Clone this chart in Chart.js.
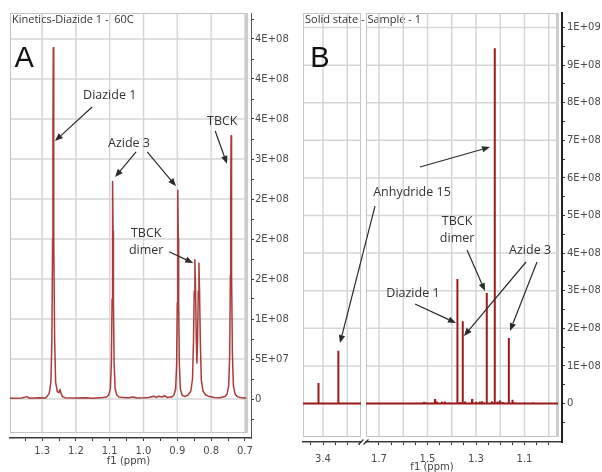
<!DOCTYPE html>
<html><head><meta charset="utf-8">
<script src="https://cdn.jsdelivr.net/npm/chart.js@4"></script>
<style>
html,body{margin:0;padding:0;background:#fff;}
#wrap{position:relative;width:602px;height:472px;overflow:hidden;background:#fff;}
.c{position:absolute;top:0;}
</style></head><body>
<div id="wrap">
<canvas id="cA" class="c" style="left:0" width="300" height="472"></canvas>
<canvas id="cBL" class="c" style="left:300px" width="302" height="472"></canvas>
<canvas id="cBR" class="c" style="left:300px" width="302" height="472"></canvas>
</div>
<script>
// ---------------- DATA: Panel A (Kinetics-Diazide 1 - 60C) ----------------
const A_TITLE = 'Kinetics-Diazide 1 -  60C';
const A_PPM = [1.395,1.36,1.345,1.338,1.31,1.29,
  1.285,1.279,1.274,1.271,1.269,1.268,1.267,1.266,1.265,1.263,1.260,1.255,
  1.250,1.247,1.244,1.240,1.232,1.2,1.17,1.15,1.12,
  1.109,1.103,1.098,1.095,1.093,1.092,1.091,1.090,1.089,1.087,1.084,1.079,1.073,
  1.06,1.045,1.03,1.02,1.0,0.985,0.97,0.962,0.955,0.945,0.937,0.93,0.92,
  0.916,0.91,0.905,0.902,0.900,0.899,0.898,0.897,0.896,0.894,0.891,0.886,
  0.878,0.868,0.860,0.855,0.852,0.850,0.848,0.846,0.844,0.842,0.840,0.838,0.836,0.834,0.832,0.829,0.824,0.816,0.805,0.79,0.775,0.765,
  0.759,0.753,0.748,0.745,0.743,0.742,0.741,0.740,0.739,0.737,0.734,0.729,0.723,0.71,0.696];
const A_INT = [1.0e6,1.2e6,3.0e6,1.0e6,1.5e6,1.2e6,
  3.5e6,7e6,2.1e7,7.5e7,2.0e8,3.4e8,4.39e8,3.4e8,2.0e8,7.5e7,2.1e7,9e6,
  8e6,1.2e7,7e6,3e6,1.5e6,1.2e6,1.5e6,1.0e6,2.0e6,
  2.5e6,5e6,1.3e7,4.6e7,1.25e8,2.1e8,2.72e8,2.1e8,1.25e8,4.6e7,1.3e7,5e6,2.5e6,
  2.0e6,1.5e6,2.5e6,1.2e6,1.5e6,2.0e6,3.5e6,2.0e6,3.5e6,2.5e6,4.0e6,2.0e6,2.5e6,
  2.5e6,5e6,1.25e7,4.4e7,1.2e8,2.0e8,2.61e8,2.0e8,1.2e8,4.4e7,1.25e7,5e6,
  3e6,5e6,1.0e7,2.5e7,7.5e7,1.35e8,1.74e8,1.35e8,7.5e7,4.5e7,7.5e7,1.35e8,1.70e8,1.3e8,7.3e7,2.4e7,1.0e7,5e6,3e6,2e6,1.5e6,2.5e6,
  3e6,6e6,1.6e7,5.6e7,1.55e8,2.5e8,3.29e8,2.5e8,1.55e8,5.6e7,1.6e7,6e6,3e6,1.5e6,1.0e6];
const A_X_TICK_VALUES = [1.35,1.3,1.25,1.2,1.15,1.1,1.05,1.0,0.95,0.9,0.85,0.8,0.75,0.7];
const A_X_TICK_LABELS = ['','1.3','','1.2','','1.1','','1.0','','0.9','','0.8','','0.7'];
const A_GRID_X = [1.3,1.2,1.1,1.0,0.9,0.8,0.7];
const A_Y_TICK_VALUES = [-2.5e7,0,2.5e7,5e7,7.5e7,1e8,1.25e8,1.5e8,1.75e8,2e8,2.25e8,2.5e8,2.75e8,3e8,3.25e8,3.5e8,3.75e8,4e8,4.25e8,4.5e8,4.75e8];
const A_Y_TICK_LABELS = ['','0','','5E+07','','1E+08','','2E+08','','2E+08','','2E+08','','3E+08','','4E+08','','4E+08','','4E+08',''];
const A_GRID_Y = [0,5e7,1e8,1.5e8,2e8,2.5e8,3e8,3.5e8,4e8,4.5e8];
const A_X_RANGE = [0.682, 1.395];
const A_Y_RANGE = [-4.875e7, 4.825e8];
// annotations (data coordinates)
const A_LABELS = [
  {text:'Diazide 1', x:1.100, y:3.80e8},
  {text:'Azide 3', x:1.043, y:3.20e8},
  {text:'TBCK', x:0.767, y:3.475e8},
  {text:'TBCK', x:0.992, y:2.075e8},
  {text:'dimer', x:0.992, y:1.8625e8}
];
const A_ARROWS = [
  [1.152,3.65e8, 1.262,3.225e8],
  [1.022,3.09e8, 1.084,2.775e8],
  [0.989,3.09e8, 0.904,2.66e8],
  [0.788,3.35e8, 0.753,2.94e8],
  [0.924,1.84e8, 0.853,1.70e8]
];
const A_LETTER = {text:'A', x:1.353, y:4.25e8};

// ---------------- DATA: Panel B (Solid state - Sample - 1) ----------------
const B_TITLE = 'Solid state - Sample - 1';
const B_LEFT_PEAK_PPM = [3.465,3.419,3.385,3.337,3.30];
const B_LEFT_PEAK_INT = [2e6,5.45e7,2e6,1.40e8,2e6];
const B_RIGHT_PEAK_PPM = [1.515,1.505,1.469,1.462,1.44,1.428,1.41,1.377,1.365,1.355,1.345,1.316,1.30,1.285,1.275,1.256,1.235,1.223,1.212,1.201,1.19,1.165,1.150,1.14,1.098,1.065];
const B_RIGHT_PEAK_INT = [4e6,3e6,1.2e7,5e6,4e6,5e6,3e6,3.31e8,4e6,2.19e8,5e6,1.2e7,4e6,5e6,6e6,2.94e8,6e6,9.45e8,5e6,8e6,4e6,1.74e8,1e7,3e6,3e6,3e6];
const B_LEFT_X_RANGE = [3.2433, 3.4825];
const B_RIGHT_X_RANGE = [0.9454, 1.7536];
const B_RIGHT_BASELINE_END = 0.962;
const B_Y_RANGE = [-1.024e8, 1.0387e9];
const B_LEFT_X_TICK_VALUES = [3.45,3.4,3.35,3.3,3.25];
const B_LEFT_X_TICK_LABELS = ['','3.4','','',''];
const B_LEFT_GRID_X = [3.4,3.3];
const B_RIGHT_X_TICK_VALUES = [1.7,1.65,1.6,1.55,1.5,1.45,1.4,1.35,1.3,1.25,1.2,1.15,1.1,1.05,1.0];
const B_RIGHT_X_TICK_LABELS = ['1.7','','','','1.5','','','','1.3','','','','1.1','',''];
const B_RIGHT_GRID_X = [1.7,1.6,1.5,1.4,1.3,1.2,1.1,1.0];
const B_Y_TICK_VALUES = [-5e7,0,5e7,1e8,1.5e8,2e8,2.5e8,3e8,3.5e8,4e8,4.5e8,5e8,5.5e8,6e8,6.5e8,7e8,7.5e8,8e8,8.5e8,9e8,9.5e8,1e9];
const B_Y_TICK_LABELS = ['','0','','1E+08','','2E+08','','3E+08','','4E+08','','5E+08','','6E+08','','7E+08','','8E+08','','9E+08','','1E+09'];
const B_GRID_Y = [0,1e8,2e8,3e8,4e8,5e8,6e8,7e8,8e8,9e8,1e9];
const B_LABELS = [
  {text:'Anhydride 15', x:1.564, y:5.626e8},
  {text:'TBCK', x:1.378, y:4.83e8},
  {text:'dimer', x:1.378, y:4.40e8},
  {text:'Diazide 1', x:1.560, y:2.94e8},
  {text:'Azide 3', x:1.077, y:4.083e8}
];
const B_ARROWS = [
  [1.7165,5.25e8, 1.8608,1.607e8],
  [1.5309,6.29e8, 1.2423,6.82e8],
  [1.3371,4.083e8, 1.2629,2.99e8],
  [1.5515,2.647e8, 1.3825,2.141e8],
  [1.0938,3.764e8, 1.3495,1.795e8],
  [1.0485,3.764e8, 1.1598,1.928e8]
];
const B_LETTER = {text:'B', x:3.4124, y:9.163e8};
const X_TITLE = 'f1 (ppm)';
const B_X_TITLE_AT = 1.4814;

// ---------------- styles ----------------
const TICK_FONT = {family:'DejaVu Sans', size:10};
const TICK_COLOR = '#4a4a4a';
const GRID_COLOR = '#d6d6d6';
const FRAME_COLOR = '#c4c4c4';
const LABEL_FONT = '12.5px "Open Sans"';
const LABEL_COLOR = '#333';
const ARROW_COLOR = '#2b2b2b';

function lookup(vals, labels, v){
  for (let k=0;k<vals.length;k++) if (Math.abs(vals[k]-v) < 1e-6*Math.max(1,Math.abs(v))) return labels[k];
  return '';
}
function xScale(range, tv, tl, h, pad){
  return {type:'linear', position:'bottom', reverse:true, min:range[0], max:range[1],
    afterBuildTicks: s => { s.ticks = tv.map(v=>({value:v})); },
    afterFit: s => { s.height = h; },
    ticks:{autoSkip:false, maxRotation:0, minRotation:0, padding:pad, color:TICK_COLOR, font:TICK_FONT,
      callback:(v)=>lookup(tv,tl,v)},
    grid:{drawOnChartArea:false, drawTicks:true, tickLength:3, tickColor:'#333', tickWidth:1},
    border:{display:true, color:'#3a3a3a', width:1.5}
  };
}
function yScale(range, tv, tl, w, display, bw, bc, pad){
  return {type:'linear', position:'right', min:range[0], max:range[1], display:display,
    afterBuildTicks: s => { s.ticks = tv.map(v=>({value:v})); },
    afterFit: s => { s.width = w; },
    ticks:{autoSkip:false, padding:pad, color:TICK_COLOR, font:TICK_FONT, callback:(v)=>lookup(tv,tl,v)},
    grid:{drawOnChartArea:false, drawTicks:true, tickLength:3, tickColor:'#333', tickWidth:1},
    border:{display:true, color:bc, width:bw}
  };
}
function arrow(ctx,x1,y1,x2,y2){
  const a=Math.atan2(y2-y1,x2-x1), L=8, W=3.2;
  const bx=x2-L*Math.cos(a), by=y2-L*Math.sin(a);
  ctx.beginPath(); ctx.moveTo(x1,y1); ctx.lineTo(bx,by); ctx.stroke();
  ctx.beginPath(); ctx.moveTo(x2,y2);
  ctx.lineTo(bx-W*Math.sin(a), by+W*Math.cos(a));
  ctx.lineTo(bx+W*Math.sin(a), by-W*Math.cos(a));
  ctx.closePath(); ctx.fill();
}
function panelPlugin(o){
  return {
    id:'panel_'+o.name,
    beforeDatasetsDraw(chart){
      const ctx=chart.ctx, a=chart.chartArea, xs=chart.scales.x, ys=chart.scales.y;
      const fr={l:a.left, t:a.top, r:a.right-o.gapR, b:a.bottom-o.gapB};
      ctx.save();
      ctx.strokeStyle=GRID_COLOR; ctx.lineWidth=1.5;
      ctx.beginPath();
      o.gridX.forEach(v=>{const p=xs.getPixelForValue(v); if(p>=fr.l-0.5&&p<=fr.r+0.5){ctx.moveTo(p,fr.t);ctx.lineTo(p,fr.b);} });
      o.gridY.forEach(v=>{const p=ys.getPixelForValue(v); if(p>=fr.t-0.5&&p<=fr.b+0.5){ctx.moveTo(fr.l,p);ctx.lineTo(fr.r,p);} });
      ctx.stroke();
      ctx.strokeStyle=FRAME_COLOR; ctx.lineWidth=1;
      ctx.strokeRect(fr.l+0.5, fr.t+0.5, fr.r-fr.l-1, fr.b-fr.t-1);
      if (o.rightBar){ ctx.fillStyle='#cdcdcd'; ctx.fillRect(fr.r-2, fr.t, 3, fr.b-fr.t); }
      ctx.restore();
    },
    afterDatasetsDraw(chart){
      const ctx=chart.ctx, a=chart.chartArea, xs=chart.scales.x, ys=chart.scales.y;
      ctx.save();
      if (o.title){
        ctx.font='11px "Open Sans"'; ctx.fillStyle='#333'; ctx.textAlign='left'; ctx.textBaseline='middle';
        ctx.fillText(o.title, a.left+2, a.top+7);
      }
      if (o.letter){
        ctx.font='29px "Liberation Sans"'; ctx.fillStyle='#111'; ctx.textAlign='center'; ctx.textBaseline='middle';
        ctx.fillText(o.letter.text, xs.getPixelForValue(o.letter.x), ys.getPixelForValue(o.letter.y));
      }
      ctx.font=LABEL_FONT; ctx.fillStyle=LABEL_COLOR; ctx.textAlign='center'; ctx.textBaseline='middle';
      (o.labels||[]).forEach(l=>ctx.fillText(l.text, xs.getPixelForValue(l.x), ys.getPixelForValue(l.y)));
      ctx.strokeStyle=ARROW_COLOR; ctx.fillStyle=ARROW_COLOR; ctx.lineWidth=1.2;
      (o.arrows||[]).forEach(r=>arrow(ctx, xs.getPixelForValue(r[0]), ys.getPixelForValue(r[1]), xs.getPixelForValue(r[2]), ys.getPixelForValue(r[3])));
      if (o.xTitle){
        ctx.font='10px "DejaVu Sans"'; ctx.fillStyle='#444'; ctx.textAlign='center'; ctx.textBaseline='middle';
        const px = (o.xTitleAt!==undefined) ? xs.getPixelForValue(o.xTitleAt) : (a.left + a.right - o.gapR)/2;
        ctx.fillText(o.xTitle, px, o.xTitleY);
      }
      if (o.breakAt){
        ctx.strokeStyle='#333'; ctx.lineWidth=1.2; ctx.beginPath();
        const bx = o.breakAt==='right' ? a.right : a.left;
        ctx.moveTo(bx-2.5, a.bottom+2.5); ctx.lineTo(bx+2.5, a.bottom-2.5); ctx.stroke();
      }
      ctx.restore();
    }
  };
}
function pts(px, py){ return px.map((p,i)=>({x:p, y:py[i]})); }
function sticks(range0, range1, pp, pi){
  const out=[{x:range1, y:0}];
  pp.forEach((p,i)=>{ out.push({x:p+0.0008,y:0},{x:p,y:pi[i]},{x:p-0.0008,y:0}); });
  out.push({x:range0, y:0});
  return out;
}
const common = {responsive:false, animation:false, devicePixelRatio:1,
  plugins:{legend:{display:false}, tooltip:{enabled:false}},
  elements:{point:{radius:0}, line:{tension:0}}};

// Panel A
new Chart(document.getElementById('cA'), {
  type:'line',
  data:{datasets:[{data:pts(A_PPM, A_INT), borderColor:'rgba(163,38,38,0.9)', borderWidth:1.5, borderJoinStyle:'round', fill:false}]},
  options:Object.assign({}, common, {
    layout:{padding:{left:10, top:13, right:4, bottom:4}},
    scales:{x:xScale(A_X_RANGE, A_X_TICK_VALUES, A_X_TICK_LABELS, 30, 4),
            y:yScale(A_Y_RANGE, A_Y_TICK_VALUES, A_Y_TICK_LABELS, 45, true, 1, '#555', 1)}
  }),
  plugins:[panelPlugin({name:'A', gapR:4, gapB:5, rightBar:true, gridX:A_GRID_X, gridY:A_GRID_Y,
    title:A_TITLE, letter:A_LETTER, labels:A_LABELS, arrows:A_ARROWS, xTitle:X_TITLE, xTitleY:461})]
});

// Panel B left segment
new Chart(document.getElementById('cBL'), {
  type:'line',
  data:{datasets:[{data:sticks(B_LEFT_X_RANGE[0], B_LEFT_X_RANGE[1], B_LEFT_PEAK_PPM, B_LEFT_PEAK_INT), borderColor:'#9c1c1c', borderWidth:2, borderJoinStyle:'bevel', fill:false}]},
  options:Object.assign({}, common, {
    layout:{padding:{left:3, top:13, right:241, bottom:4}},
    scales:{x:xScale(B_LEFT_X_RANGE, B_LEFT_X_TICK_VALUES, B_LEFT_X_TICK_LABELS, 26, 8),
            y:yScale(B_Y_RANGE, B_Y_TICK_VALUES, B_Y_TICK_LABELS, 0, false, 1, '#222', 1)}
  }),
  plugins:[panelPlugin({name:'BL', gapR:0, gapB:5, rightBar:false, gridX:B_LEFT_GRID_X, gridY:B_GRID_Y,
    title:B_TITLE, letter:B_LETTER, breakAt:'right'})]
});

// Panel B right segment
new Chart(document.getElementById('cBR'), {
  type:'line',
  data:{datasets:[{data:sticks(B_RIGHT_BASELINE_END, B_RIGHT_X_RANGE[1], B_RIGHT_PEAK_PPM, B_RIGHT_PEAK_INT), borderColor:'#9c1c1c', borderWidth:2, borderJoinStyle:'bevel', fill:false}]},
  options:Object.assign({}, common, {
    layout:{padding:{left:66, top:13, right:2, bottom:4}},
    scales:{x:xScale(B_RIGHT_X_RANGE, B_RIGHT_X_TICK_VALUES, B_RIGHT_X_TICK_LABELS, 26, 8),
            y:yScale(B_Y_RANGE, B_Y_TICK_VALUES, B_Y_TICK_LABELS, 38, true, 2, '#222', 2)}
  }),
  plugins:[panelPlugin({name:'BR', gapR:4, gapB:5, rightBar:true, gridX:B_RIGHT_GRID_X, gridY:B_GRID_Y,
    labels:B_LABELS, arrows:B_ARROWS, xTitle:X_TITLE, xTitleAt:B_X_TITLE_AT, xTitleY:467, breakAt:'left'})]
});
</script>
</body></html>
